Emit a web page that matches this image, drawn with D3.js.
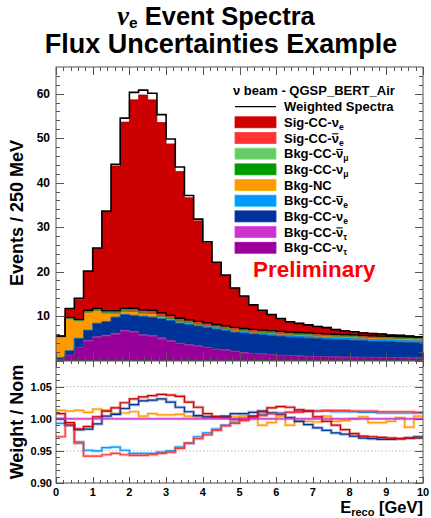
<!DOCTYPE html>
<html><head><meta charset="utf-8">
<script src="https://cdn.jsdelivr.net/npm/d3@7"></script>
<style>
body{margin:0;background:#fff}
svg text{font-family:"Liberation Sans",Arial,Helvetica,sans-serif;font-weight:bold}
</style></head><body>
<svg id="c" width="431" height="518"></svg>
<script>
// Reconstructed energy bins: 40 bins of 250 MeV from 0 to 10 GeV
const binLow = d3.range(40).map(i => i * 0.25);
const binWidth = 0.25;

// Nominal event counts per component (events / 250 MeV)
const bkgNutau    = [0.2,1.1,2.8,4.3,5.1,5.4,5.8,6.5,6.2,5.5,5.3,4.8,4.2,3.7,3.4,3.1,2.8,2.35,2.2,1.9,1.6,1.5,1.4,1.25,1.1,1.0,0.95,0.85,0.8,0.8,0.75,0.7,0.7,0.65,0.6,0.6,0.55,0.55,0.5,0.5];
const bkgNutaubar = [0.02,0.1,0.15,0.25,0.25,0.3,0.3,0.3,0.3,0.3,0.3,0.3,0.3,0.2,0.2,0.2,0.2,0.2,0.2,0.2,0.2,0.1,0.1,0.1,0.1,0.1,0.1,0.1,0.1,0.1,0.1,0.1,0.1,0.1,0.1,0.1,0.1,0.1,0.1,0.1];
const bkgNue      = [0.36,0.95,1.97,2.2,2.95,2.98,3.58,3.45,3.55,4.05,4.05,4.22,4.4,4.4,4.4,4.38,4.35,4.45,4.27,4.2,4.3,4.28,4.22,4.2,4.2,4.13,4.07,4.05,4.0,3.88,3.83,3.81,3.7,3.65,3.59,3.54,3.53,3.43,3.42,3.37];
const bkgNuebar   = [0.02,0.05,0.08,0.1,0.1,0.12,0.12,0.15,0.15,0.15,0.15,0.18,0.2,0.2,0.2,0.22,0.25,0.25,0.28,0.3,0.3,0.32,0.33,0.35,0.35,0.37,0.38,0.4,0.4,0.42,0.42,0.44,0.45,0.45,0.46,0.46,0.47,0.47,0.48,0.48];
const bkgNC       = [4.76,7.21,3.96,4.06,2.86,1.91,0.86,0.71,0.86,0.66,0.76,0.46,0.36,0.36,0.31,0.28,0.26,0.29,0.31,0.31,0.28,0.3,0.31,0.32,0.33,0.34,0.35,0.36,0.36,0.37,0.38,0.38,0.39,0.39,0.4,0.4,0.41,0.41,0.42,0.42];
const bkgNumu     = [0.02,0.03,0.03,0.04,0.04,0.04,0.04,0.04,0.04,0.04,0.04,0.04,0.04,0.04,0.03,0.03,0.03,0.03,0.03,0.03,0.03,0.03,0.03,0.03,0.03,0.03,0.03,0.03,0.03,0.03,0.03,0.03,0.02,0.02,0.02,0.02,0.02,0.02,0.02,0.02];
const bkgNumubar  = [0.01,0.01,0.01,0.01,0.01,0.01,0.01,0.01,0.01,0.01,0.01,0.01,0.01,0.01,0.01,0.01,0.01,0.01,0.01,0.01,0.01,0.01,0.01,0.01,0.01,0.01,0.01,0.01,0.01,0.01,0.01,0.01,0.01,0.01,0.01,0.01,0.01,0.01,0.01,0.01];
const sigNuebar   = [0.0,0.15,0.2,0.25,0.3,0.35,0.4,0.45,0.5,0.5,0.5,0.5,0.5,0.5,0.5,0.48,0.45,0.42,0.4,0.4,0.38,0.36,0.35,0.34,0.33,0.32,0.31,0.3,0.3,0.29,0.28,0.28,0.27,0.27,0.26,0.26,0.25,0.25,0.24,0.24];
const sigNue      = [0.05,1.9,4.6,8.8,13.6,22.3,32.6,42.0,47.0,48.5,47.5,43.0,38.7,33.1,27.55,22.7,18.15,14.0,11.3,8.95,7.3,5.5,4.45,3.7,2.95,2.4,2.15,1.95,1.7,1.55,1.2,0.95,0.85,0.7,0.65,0.6,0.4,0.45,0.35,0.25];

// Flux-weighted spectra (outlines)
const weightedTotal = [5.5,11.7,14.0,20.1,25.3,33.6,44.1,54.5,60.3,60.8,60.1,55.3,49.8,43.5,37.1,31.8,26.7,22.1,19.2,16.3,14.5,12.5,11.3,10.35,9.45,8.7,8.35,8.0,7.65,7.4,6.95,6.65,6.45,6.2,6.05,5.95,5.7,5.65,5.5,5.35];
const weightedBkg   = [5.5,9.7,9.25,11.3,11.7,11.2,11.2,11.75,11.75,11.4,11.3,10.7,10.15,9.5,9.15,8.8,8.45,8.1,7.8,7.45,7.2,7.0,6.85,6.7,6.55,6.4,6.3,6.2,6.1,6.0,5.9,5.85,5.75,5.65,5.55,5.5,5.45,5.35,5.3,5.25];

// Weight / nominal ratios per component
const ratioSigNue    = [1.008,0.994,0.984,0.988,1.003,1.012,1.017,1.025,1.031,1.034,1.036,1.038,1.037,1.035,1.026,1.018,1.008,1.003,1.002,0.999,1.000,1.004,1.011,1.017,1.019,1.018,1.014,1.012,1.003,0.996,0.990,0.983,0.977,0.973,0.972,0.971,0.970,0.969,0.970,0.970];
const ratioSigNuebar = [0.972,0.990,0.962,0.942,0.942,0.944,0.946,0.944,0.943,0.943,0.944,0.946,0.948,0.954,0.962,0.969,0.975,0.982,0.989,0.993,0.997,1.002,1.005,1.008,1.008,1.010,1.010,1.012,1.012,1.013,1.013,1.013,1.012,1.012,1.012,1.011,1.011,1.011,1.011,1.010];
const ratioBkgNuebar = [0.993,0.990,0.964,0.951,0.950,0.955,0.956,0.951,0.946,0.946,0.946,0.948,0.950,0.956,0.962,0.972,0.978,0.984,0.990,0.995,1.000,1.004,1.007,1.009,1.009,1.010,1.012,1.012,1.012,1.012,1.011,1.011,1.011,1.010,1.010,1.009,1.009,1.009,1.009,1.009];
const ratioBkgNue    = [1.000,0.990,0.983,0.984,0.992,1.004,1.007,1.016,1.022,1.028,1.029,1.031,1.026,1.018,1.011,1.005,1.003,1.003,1.004,1.008,1.008,1.010,1.012,1.009,1.007,1.002,0.996,0.991,0.986,0.982,0.978,0.976,0.973,0.970,0.969,0.968,0.968,0.969,0.970,0.972];
const ratioBkgNC     = [1.013,1.012,1.013,1.010,1.015,1.013,1.008,1.009,1.011,1.004,1.008,1.006,1.006,1.007,1.004,1.003,1.003,1.003,1.003,1.003,1.004,1.000,0.990,0.994,1.004,0.990,0.996,0.996,0.995,1.004,0.996,0.997,1.000,1.003,0.994,0.994,0.996,1.002,0.987,1.004];
const ratioBkgNutaubar = [1,1,1,1,1,1,1,1,1,1,1,1,1,1,1,1,1,1,1,1,1,1,1,1,1,1,1,1,1,1,1,1,1,1,1,1,1,1,1,1];

// Tick labels
const yTicksUpper = [10,20,30,40,50,60];
const yTicksLower = [0.90,0.95,1.00,1.05];
const xTicks = [0,1,2,3,4,5,6,7,8,9,10];

// Stack components, bottom to top
const components = [
  {key:"bkgNutau",    vals:bkgNutau,    color:"#990099"},
  {key:"bkgNutaubar", vals:bkgNutaubar, color:"#cc33cc"},
  {key:"bkgNue",      vals:bkgNue,      color:"#003399"},
  {key:"bkgNuebar",   vals:bkgNuebar,   color:"#0099ff"},
  {key:"bkgNC",       vals:bkgNC,       color:"#ff9900"},
  {key:"bkgNumu",     vals:bkgNumu,     color:"#009900"},
  {key:"bkgNumubar",  vals:bkgNumubar,  color:"#66cc66"},
  {key:"sigNuebar",   vals:sigNuebar,   color:"#ff3333"},
  {key:"sigNue",      vals:sigNue,      color:"#cc0000"}
];

const svg = d3.select("#c");
const frame = {left:56, right:423, upTop:67, upBottom:360.5, loTop:361, loBottom:483};
const x = d3.scaleLinear().domain([0,10]).range([frame.left, frame.right]);
const yU = d3.scaleLinear().domain([0,66]).range([frame.upBottom, frame.upTop]);
const yL = d3.scaleLinear().domain([0.9,1.09]).range([frame.loBottom, frame.loTop]);

// --- title
const t1 = svg.append("text").attr("x", 216).attr("y", 24.5).attr("text-anchor","middle").style("font-size","25.5px");
t1.append("tspan").text("ν").style("font-family","'Liberation Serif',serif").style("font-style","italic").style("font-weight","bold").style("font-size","26.5px");
t1.append("tspan").text("e").style("font-size","15.5px").attr("dy",3);
t1.append("tspan").text(" Event Spectra").attr("dy",-3);
svg.append("text").attr("x", 221).attr("y", 53).attr("text-anchor","middle").style("font-size","27px").text("Flux Uncertainties Example");

// --- upper pad
svg.append("clipPath").attr("id","clipU").append("rect")
  .attr("x",frame.left).attr("y",frame.upTop).attr("width",frame.right-frame.left).attr("height",frame.upBottom-frame.upTop);
const rows = binLow.map((b,i) => {
  const r = {x:b};
  components.forEach(c => r[c.key] = c.vals[i]);
  return r;
});
rows.push(Object.assign({}, rows[rows.length-1], {x: binLow[binLow.length-1] + binWidth}));
const stacked = d3.stack().keys(components.map(c=>c.key))(rows);
const gU = svg.append("g").attr("clip-path","url(#clipU)");
const area = d3.area().curve(d3.curveStepAfter)
  .x(d => x(d.data.x)).y0(d => yU(d[0])).y1(d => yU(d[1]));
const topLine = d3.line().curve(d3.curveStepAfter).x(d => x(d.data.x)).y(d => yU(d[1]));
stacked.forEach((layer,i) => {
  gU.append("path").attr("d", area(layer)).attr("fill", components[i].color);
});
stacked.forEach((layer,i) => {
  const col = d3.color(components[i].color).darker(0.8);
  gU.append("path").attr("d", topLine(layer)).attr("fill","none").attr("stroke", col).attr("stroke-width",0.7);
});
const stepLine = d3.line().curve(d3.curveStepAfter).x(d => x(d[0])).y(d => yU(d[1]));
const withEnd = arr => { const p = binLow.map((b,i)=>[b,arr[i]]); p.push([10, arr[arr.length-1]]); return p; };
gU.append("path").attr("d", stepLine(withEnd(weightedBkg))).attr("fill","none").attr("stroke","#000").attr("stroke-width",1.3);
gU.append("path").attr("d", stepLine(withEnd(weightedTotal))).attr("fill","none").attr("stroke","#000").attr("stroke-width",1.6);

// --- lower pad: grid + ratios
const gL = svg.append("g");
yTicksLower.forEach(v => {
  gL.append("line").attr("x1",frame.left).attr("x2",frame.right).attr("y1",yL(v)).attr("y2",yL(v))
    .attr("stroke","#aaa").attr("stroke-width",0.8).attr("stroke-dasharray","1.5,2");
});
const ratioLine = d3.line().curve(d3.curveStepAfter).x(d => x(d[0])).y(d => yL(d[1]));
const ratios = [
  {vals:ratioBkgNC,      color:"#ff9900"},
  {vals:ratioBkgNuebar,  color:"#0099ff"},
  {vals:ratioBkgNue,     color:"#003399"},
  {vals:ratioSigNuebar,  color:"#ff3333"},
  {vals:ratioSigNue,     color:"#cc0000"},
  {vals:ratioBkgNutaubar,color:"#cc33cc"}
];
ratios.forEach(r => {
  const p = binLow.map((b,i)=>[b, r.vals[i]]); p.push([10, r.vals[r.vals.length-1]]);
  gL.append("path").attr("d", ratioLine(p)).attr("fill","none").attr("stroke", r.color).attr("stroke-opacity",0.35).attr("stroke-width",3);
  gL.append("path").attr("d", ratioLine(p)).attr("fill","none").attr("stroke", r.color).attr("stroke-width",1.2);
});

// --- frames and ticks
const axisCol = "#555";
function frameRect(top,bottom){
  svg.append("rect").attr("x",frame.left).attr("y",top).attr("width",frame.right-frame.left).attr("height",bottom-top)
    .attr("fill","none").attr("stroke",axisCol).attr("stroke-width",1);
}
frameRect(frame.upTop, frame.upBottom);
frameRect(frame.loTop, frame.loBottom);
function tickLine(x1,y1,x2,y2){ svg.append("line").attr("x1",x1).attr("y1",y1).attr("x2",x2).attr("y2",y2).attr("stroke",axisCol).attr("stroke-width",1); }
// x ticks (both pads, top and bottom)
d3.range(0, 10.001, 0.2).forEach(v => {
  const major = Math.abs(v - Math.round(v)) < 1e-6;
  const xx = Math.round(x(v)) + 0.5;
  tickLine(xx, frame.upBottom, xx, frame.upBottom - (major?8:4));
  tickLine(xx, frame.upTop, xx, frame.upTop + (major?8:4));
  tickLine(xx, frame.loBottom, xx, frame.loBottom - (major?6:3));
  tickLine(xx, frame.loTop, xx, frame.loTop + (major?6:3));
});
// upper y ticks
d3.range(0, 66, 2).forEach(v => {
  const major = v % 10 === 0;
  const yy = Math.round(yU(v)) + 0.5;
  tickLine(frame.left, yy, frame.left + (major?8:4), yy);
  tickLine(frame.right, yy, frame.right - (major?8:4), yy);
});
// lower y ticks
d3.range(0.90, 1.0901, 0.01).forEach(v => {
  const major = Math.abs(v*20 - Math.round(v*20)) < 1e-6;
  const yy = Math.round(yL(v)) + 0.5;
  tickLine(frame.left, yy, frame.left + (major?8:4), yy);
  tickLine(frame.right, yy, frame.right - (major?8:4), yy);
});

// tick labels
yTicksUpper.forEach(v => svg.append("text").attr("x", 50).attr("y", yU(v)+4.3).attr("text-anchor","end").style("font-size","12px").text(v));
yTicksLower.forEach(v => svg.append("text").attr("x", 52).attr("y", yL(v)+4).attr("text-anchor","end").style("font-size","11px").text(v.toFixed(2)));
xTicks.forEach(v => svg.append("text").attr("x", x(v)).attr("y", 495.5).attr("text-anchor","middle").style("font-size","11px").text(v));

// axis titles
svg.append("text").attr("transform","translate(23,213) rotate(-90)").attr("text-anchor","middle").style("font-size","18px").text("Events / 250 MeV");
svg.append("text").attr("transform","translate(23,422) rotate(-90)").attr("text-anchor","middle").style("font-size","18px").text("Weight / Nom");
const xt = svg.append("text").attr("x", frame.right).attr("y", 513).attr("text-anchor","end").style("font-size","16.5px");
xt.append("tspan").text("E");
xt.append("tspan").text("reco").style("font-size","11px").attr("dy",3);
xt.append("tspan").text(" [GeV]").attr("dy",-3);

// --- legend
const lg = svg.append("g");
lg.append("text").attr("x",233).attr("y",95).style("font-size","13px").text("ν beam - QGSP_BERT_Air");
lg.append("line").attr("x1",235).attr("x2",276).attr("y1",106.7).attr("y2",106.7).attr("stroke","#000").attr("stroke-width",1.3);
lg.append("text").attr("x",284).attr("y",111.3).style("font-size","13px").text("Weighted Spectra");
const legendEntries = [
  {pre:"Sig-CC-", sub:"e", bar:false, color:"#cc0000"},
  {pre:"Sig-CC-", sub:"e", bar:true,  color:"#ff3333"},
  {pre:"Bkg-CC-", sub:"μ", bar:true,  color:"#66cc66"},
  {pre:"Bkg-CC-", sub:"μ", bar:false, color:"#009900"},
  {pre:"Bkg-NC",  sub:null, bar:false, color:"#ff9900"},
  {pre:"Bkg-CC-", sub:"e", bar:true,  color:"#0099ff"},
  {pre:"Bkg-CC-", sub:"e", bar:false, color:"#003399"},
  {pre:"Bkg-CC-", sub:"τ", bar:true,  color:"#cc33cc"},
  {pre:"Bkg-CC-", sub:"τ", bar:false, color:"#990099"}
];
legendEntries.forEach((e,i) => {
  const cy = 122.3 + i*15.68;
  lg.append("rect").attr("x",235).attr("y",cy-5.5).attr("width",41).attr("height",11).attr("fill",e.color)
    .attr("stroke", d3.color(e.color).brighter(0.4)).attr("stroke-width",0.8);
  const t = lg.append("text").attr("x",284).attr("y",cy+4.6).style("font-size","13px");
  t.append("tspan").text(e.pre);
  if (e.sub) {
    t.append("tspan").text("ν");
    t.append("tspan").text(e.sub).style("font-size","8.5px").attr("dy",3);
    if (e.bar) {
      const n = t.node();
      const idx = e.pre.length;
      const s = n.getStartPositionOfChar(idx), en = n.getEndPositionOfChar(idx);
      lg.append("line").attr("x1",s.x+0.5).attr("x2",en.x-0.5).attr("y1",cy-4.2).attr("y2",cy-4.2).attr("stroke","#000").attr("stroke-width",1.1);
    }
  }
});

// preliminary stamp
svg.append("text").attr("x",253).attr("y",277).style("font-size","22.5px").attr("fill","#ff0000").text("Preliminary");
</script>
</body></html>
